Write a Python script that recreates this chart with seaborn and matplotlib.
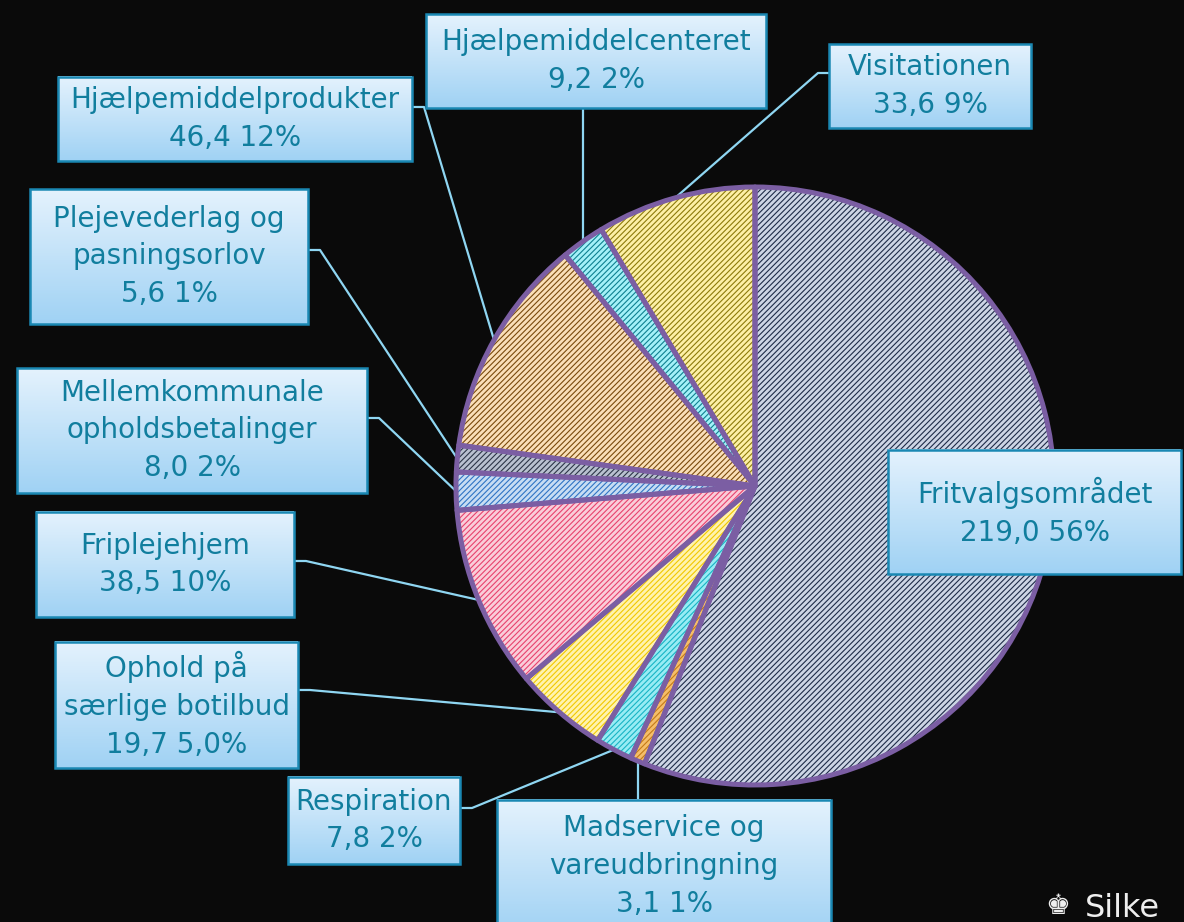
import numpy as np
import matplotlib
matplotlib.use('Agg')
import matplotlib.pyplot as plt
import seaborn as sns
from matplotlib.patches import Rectangle
from matplotlib.colors import LinearSegmentedColormap

# data (mio. kr.), clockwise from 12 o'clock
names = ["Fritvalgsområdet", "Madservice og\nvareudbringning", "Respiration",
         "Ophold på\nsærlige botilbud", "Friplejehjem",
         "Mellemkommunale\nopholdsbetalinger", "Plejevederlag og\npasningsorlov",
         "Hjælpemiddelprodukter", "Hjælpemiddelcenteret", "Visitationen"]
values = [219.0, 3.1, 7.8, 19.7, 38.5, 8.0, 5.6, 46.4, 9.2, 33.6]
pct_labels = ["56%", "1%", "2%", "5,0%", "10%", "2%", "1%", "12%", "2%", "9%"]

face_colors = ['#CDD5E5', '#F5BE6A', '#98ECF4', '#FFF3AE', '#FACDD9',
               '#C8DDF3', '#B9C1D0', '#FADFB8', '#A4F1F8', '#FDF0A6']
hatch_colors = ['#1E2B48', '#C47A18', '#18B4C4', '#F2C800', '#E8426E',
                '#2F74C4', '#2C3547', '#7A4A0C', '#0E8090', '#8C7A0A']

# label boxes in pixel coords from top-left: x0, y0, x1, y1
boxes = [(888, 450, 1181, 574), (497, 800, 831, 935), (288, 777, 460, 864),
         (55, 642, 298, 768), (36, 512, 294, 617), (17, 368, 367, 493),
         (30, 189, 308, 324), (58, 77, 412, 161), (426, 14, 766, 108),
         (829, 44, 1031, 128)]
# leader style: side of the box the line leaves from, and its y
leaders = [None, ('down', None), ('left', 808), ('left', 690), ('left', 561),
           ('left', 418), ('left', 250), ('left', 107), ('up', None),
           ('right', 73)]

W, H = 1184, 922
BG = '#0A0A0A'
sns.set_theme(style="dark", rc={'figure.facecolor': BG, 'axes.facecolor': BG})
plt.rcParams['font.family'] = ['DejaVu Sans']
plt.rcParams['hatch.linewidth'] = 0.8


def sy(y):
    return H - y


fig = plt.figure(figsize=(W / 100, H / 100), dpi=100)
ax = fig.add_axes([0, 0, 1, 1])

cx, cy, r = 755, sy(486), 299
wedges, _ = ax.pie(values, colors=face_colors, startangle=90, counterclock=False,
                   center=(cx, cy), radius=r, wedgeprops=dict(linewidth=0))
for w, hc in zip(wedges, hatch_colors):
    w.set_hatch('//////')
    w.set_edgecolor(hc)
    w.set_zorder(2)
outline, _ = ax.pie(values, startangle=90, counterclock=False, center=(cx, cy),
                    radius=r, wedgeprops=dict(fill=False, edgecolor='#7B5EA3',
                                              linewidth=3.6, joinstyle='round'))
for w in outline:
    w.set_zorder(3)

# leader lines
line_col = '#8FD6F2'
for w, box, ld in zip(wedges, boxes, leaders):
    if ld is None:
        continue
    ang = np.deg2rad((w.theta1 + w.theta2) / 2)
    px, py = cx + r * np.cos(ang), cy + r * np.sin(ang)
    x0, y0, x1, y1 = box
    side, ey = ld
    if side == 'up':
        xs, ys = [px, px], [sy(y1), py]
    elif side == 'down':
        xs, ys = [px, px], [py, sy(y0)]
    elif side == 'left':
        xs, ys = [x1, x1 + 12, px], [sy(ey), sy(ey), py]
    else:
        xs, ys = [x0, x0 - 11, px], [sy(ey), sy(ey), py]
    ax.plot(xs, ys, color=line_col, lw=1.6, zorder=1, solid_capstyle='butt')

# label boxes with gradient
grad_cmap = LinearSegmentedColormap.from_list('box', ['#E4F2FD', '#A0D2F4'])
grad = np.linspace(0, 1, 64).reshape(-1, 1)
for name, v, p, box in zip(names, values, pct_labels, boxes):
    x0, y0, x1, y1 = box
    ax.imshow(grad, cmap=grad_cmap, extent=(x0, x1, sy(y1), sy(y0)),
              origin='upper', aspect='auto', zorder=4, interpolation='bilinear')
    ax.add_patch(Rectangle((x0, sy(y1)), x1 - x0, y1 - y0, fill=False,
                           edgecolor='#1A88B3', lw=1.8, zorder=5))
    txt = name + "\n" + f"{v:.1f}".replace('.', ',') + " " + p
    ty = (y0 + y1) / 2 if y1 < H else 866
    ax.text((x0 + x1) / 2, sy(ty), txt, ha='center', va='center', fontsize=20,
            color='#117E9E', linespacing=1.45, zorder=6)

# logo in the corner
ax.text(1058, sy(906), "\u265A", fontsize=20, color='#EEEEEE', ha='center', va='center')
ax.text(1085, sy(893), "Silke", fontsize=23, color='#EEEEEE', ha='left', va='top')

ax.set_xlim(0, W)
ax.set_ylim(0, H)
ax.axis('off')

fig.savefig('out.png', dpi=100, facecolor=BG)
